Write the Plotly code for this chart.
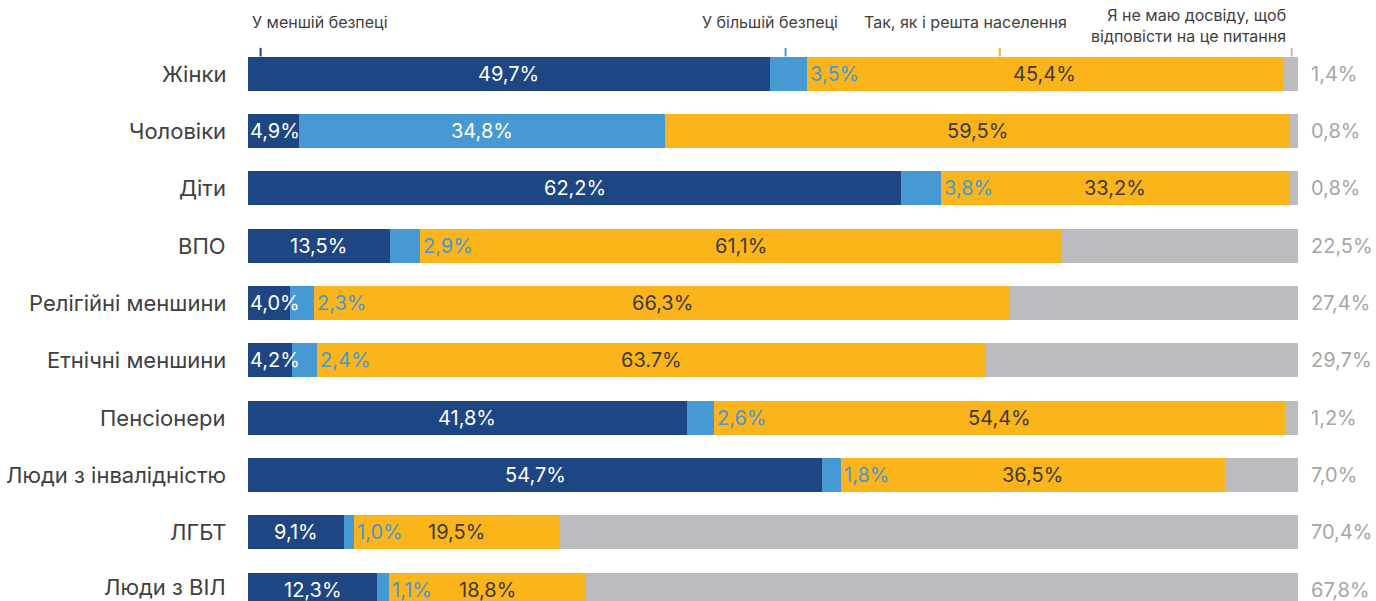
import plotly.graph_objects as go

categories = ["Жінки", "Чоловіки", "Діти", "ВПО", "Релігійні меншини", "Етнічні меншини",
              "Пенсіонери", "Люди з інвалідністю", "ЛГБТ", "Люди з ВІЛ"]
less_safe = [49.7, 4.9, 62.2, 13.5, 4.0, 4.2, 41.8, 54.7, 9.1, 12.3]
more_safe = [3.5, 34.8, 3.8, 2.9, 2.3, 2.4, 2.6, 1.8, 1.0, 1.1]
same = [45.4, 59.5, 33.2, 61.1, 66.3, 63.7, 54.4, 36.5, 19.5, 18.8]
no_exp = [1.4, 0.8, 0.8, 22.5, 27.4, 29.7, 1.2, 7.0, 70.4, 67.8]
same_labels = ["45,4%", "59,5%", "33,2%", "61,1%", "66,3%", "63.7%", "54,4%", "36,5%", "19,5%", "18,8%"]
series_names = ["У меншій безпеці", "У більшій безпеці", "Так, як і решта населення",
                "Я не маю досвіду, щоб<br>відповісти на це питання"]

C_DARK = "#1d4683"
C_LIGHT = "#4699d3"
C_YEL = "#fbb41a"
C_GRAY = "#bbbcc0"
TXT = "#404040"
FONT = "Inter"
LBL = 20

def fmt(v):
    return f"{v:.1f}".replace(".", ",") + "%"

idx = list(range(len(categories)))
fig = go.Figure()
for vals, col, name in zip([less_safe, more_safe, same, no_exp], [C_DARK, C_LIGHT, C_YEL, C_GRAY], series_names):
    fig.add_trace(go.Bar(y=idx, x=vals, orientation="h", marker=dict(color=col, line=dict(width=0)),
                         name=name, showlegend=False, hoverinfo="skip"))

ann = []
for i in idx:
    a, b, c, d = less_safe[i], more_safe[i], same[i], no_exp[i]
    # dark
    if a >= 6:
        ann.append(dict(x=a / 2, y=i, text=fmt(a), xanchor="center", font=dict(color="white")))
    else:
        ann.append(dict(x=0, y=i, text=fmt(a), xanchor="left", xshift=0, font=dict(color="white")))
    # light
    if b >= 10:
        ann.append(dict(x=a + b / 2, y=i, text=fmt(b), xanchor="center", font=dict(color="white")))
    else:
        ann.append(dict(x=a + b, y=i, text=fmt(b), xanchor="left", xshift=1, font=dict(color=C_LIGHT)))
    # yellow
    ann.append(dict(x=a + b + c / 2, y=i, text=same_labels[i], xanchor="center", font=dict(color="#3b3b3b")))
    # gray
    ann.append(dict(x=100, y=i, text=fmt(d), xanchor="left", xshift=11, font=dict(color="#a6a6a6")))

for an in ann:
    an.update(xref="x", yref="y", showarrow=False, yanchor="middle")
    an["font"].update(size=LBL, family=FONT)

# category labels
last = len(categories) - 1
for i, cat in zip(idx, categories):
    ann.append(dict(x=0, y=i, xref="paper", yref="y", text=cat, xanchor="right", yanchor="middle",
                    xshift=-20, yshift=(3 if i == last else 0), showarrow=False,
                    font=dict(size=22, family=FONT, color=TXT)))

# header legend
hy = 1 + (45 - 22) / 556
header = [
    dict(x=0.2, text=series_names[0], xanchor="left"),
    dict(x=56.4, text=series_names[1], xanchor="right"),
    dict(x=58.5, text=series_names[2], xanchor="left"),
    dict(x=99.0, text=series_names[3], xanchor="right", align="right", y=1 + (45 - 26) / 556),
]
for h in header:
    h.setdefault("y", hy)
    h.update(xref="x", yref="paper", yanchor="middle", showarrow=False,
             font=dict(size=16, family=FONT, color=TXT))
    ann.append(h)

tick_x = [1.2, 51.2, 71.6, 99.4]
shapes = []
for tx, col in zip(tick_x, [C_DARK, C_LIGHT, C_YEL, C_GRAY]):
    shapes.append(dict(type="line", xref="x", yref="y", x0=tx, x1=tx, y0=-0.3, y1=-0.45,
                       line=dict(color=col, width=2)))

fig.update_layout(
    barmode="stack", bargap=0.406,
    width=1376, height=601,
    margin=dict(l=248, r=78, t=45, b=0),
    paper_bgcolor="white", plot_bgcolor="white",
    font=dict(family=FONT, color=TXT),
    annotations=ann, shapes=shapes,
    xaxis=dict(range=[0, 100], visible=False, fixedrange=True),
    yaxis=dict(range=[9.198, -0.5], showticklabels=False,
               showgrid=False, zeroline=False, showline=False, fixedrange=True),
)
fig.write_html("out.html", config={"displayModeBar": False})
